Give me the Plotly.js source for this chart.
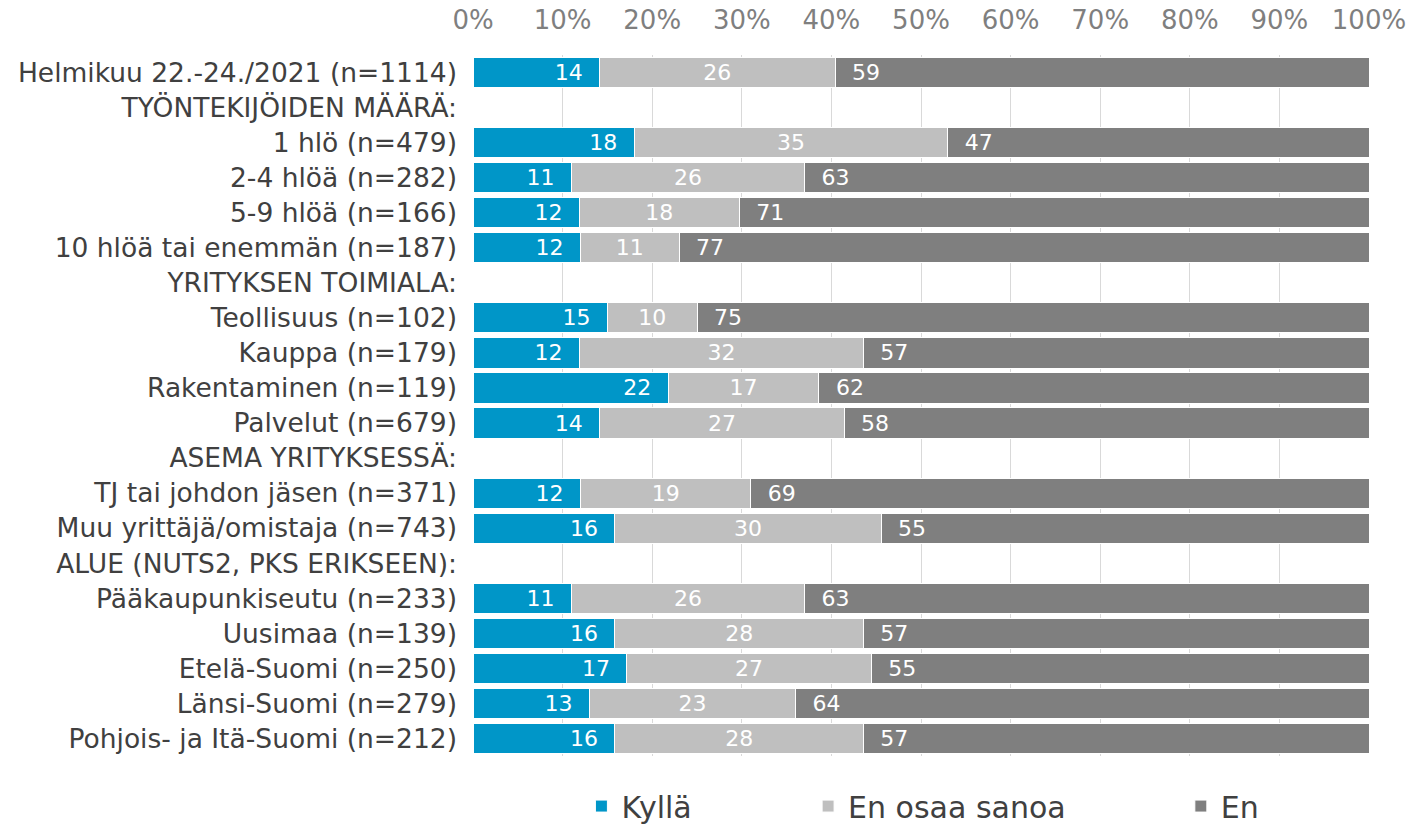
<!DOCTYPE html>
<html>
<head>
<meta charset="utf-8">
<script src="https://cdn.plot.ly/plotly-3.0.1.min.js"></script>
<style>
  html, body { margin: 0; padding: 0; background: #fff; }
  #chart { width: 1407px; height: 831px; }
</style>
</head>
<body>
<div id="chart"></div>
<script>
// rows (header rows have no values)
var categories = [
  "Helmikuu 22.-24./2021 (n=1114)",
  "TYÖNTEKIJÖIDEN MÄÄRÄ:",
  "1 hlö (n=479)",
  "2-4 hlöä (n=282)",
  "5-9 hlöä (n=166)",
  "10 hlöä tai enemmän (n=187)",
  "YRITYKSEN TOIMIALA:",
  "Teollisuus (n=102)",
  "Kauppa (n=179)",
  "Rakentaminen (n=119)",
  "Palvelut (n=679)",
  "ASEMA YRITYKSESSÄ:",
  "TJ tai johdon jäsen (n=371)",
  "Muu yrittäjä/omistaja (n=743)",
  "ALUE (NUTS2, PKS ERIKSEEN):",
  "Pääkaupunkiseutu (n=233)",
  "Uusimaa (n=139)",
  "Etelä-Suomi (n=250)",
  "Länsi-Suomi (n=279)",
  "Pohjois- ja Itä-Suomi (n=212)"
];

var kylla = [14, null, 18, 11, 12, 12, null, 15, 12, 22, 14, null, 12, 16, null, 11, 16, 17, 13, 16];
var enOsaa = [26, null, 35, 26, 18, 11, null, 10, 32, 17, 27, null, 19, 30, null, 26, 28, 27, 23, 28];
var en = [59, null, 47, 63, 71, 77, null, 75, 57, 62, 58, null, 69, 55, null, 63, 57, 55, 64, 57];

var seriesNames = ["Kyllä", "En osaa sanoa", "En"];
var seriesColors = ["#0096C8", "#BFBFBF", "#7F7F7F"];

function makeTrace(vals, i, anchor, tmpl, legendId) {
  return {
    type: "bar",
    orientation: "h",
    name: seriesNames[i],
    y: categories,
    x: vals,
    text: vals,
    texttemplate: tmpl,
    textposition: "inside",
    insidetextanchor: anchor,
    constraintext: "none",
    textfont: {family: "DejaVu Sans", size: 22, color: "#ffffff"},
    marker: {color: seriesColors[i], line: {color: "#ffffff", width: 1}},
    legend: legendId,
    hoverinfo: "skip"
  };
}

var data = [
  makeTrace(kylla, 0, "end", "%{text}\u00a0\u00a0", "legend"),
  makeTrace(enOsaa, 1, "middle", "%{text}", "legend2"),
  makeTrace(en, 2, "start", "\u00a0\u00a0%{text}", "legend3")
];

function legendAt(x) {
  return {
    orientation: "h",
    x: x, xanchor: "left",
    yref: "container",
    y: 0.03, yanchor: "middle",
    font: {family: "DejaVu Sans", size: 30, color: "#404040"},
    bgcolor: "rgba(0,0,0,0)"
  };
}

var layout = {
  width: 1407,
  height: 831,
  margin: {l: 473, r: 38, t: 55, b: 75},
  barmode: "stack",
  barnorm: "percent",
  bargap: 0.14,
  paper_bgcolor: "#ffffff",
  plot_bgcolor: "#ffffff",
  font: {family: "DejaVu Sans", color: "#404040"},
  xaxis: {
    side: "top",
    range: [0, 100],
    dtick: 10,
    ticksuffix: "%",
    showgrid: true,
    gridcolor: "#D9D9D9",
    gridwidth: 1,
    zeroline: false,
    showline: false,
    ticks: "",
    ticklabelstandoff: 20,
    tickfont: {family: "DejaVu Sans", size: 26, color: "#7F7F7F"},
    fixedrange: true
  },
  yaxis: {
    autorange: "reversed",
    type: "category",
    ticks: "",
    ticklabelstandoff: 15,
    tickfont: {family: "DejaVu Sans", size: 26.5, color: "#404040"},
    showgrid: false,
    zeroline: false,
    fixedrange: true
  },
  showlegend: true,
  legend: legendAt(0.121),
  legend2: legendAt(0.374),
  legend3: legendAt(0.79)
};

Plotly.newPlot("chart", data, layout, {displayModeBar: false, staticPlot: true});
</script>
</body>
</html>
